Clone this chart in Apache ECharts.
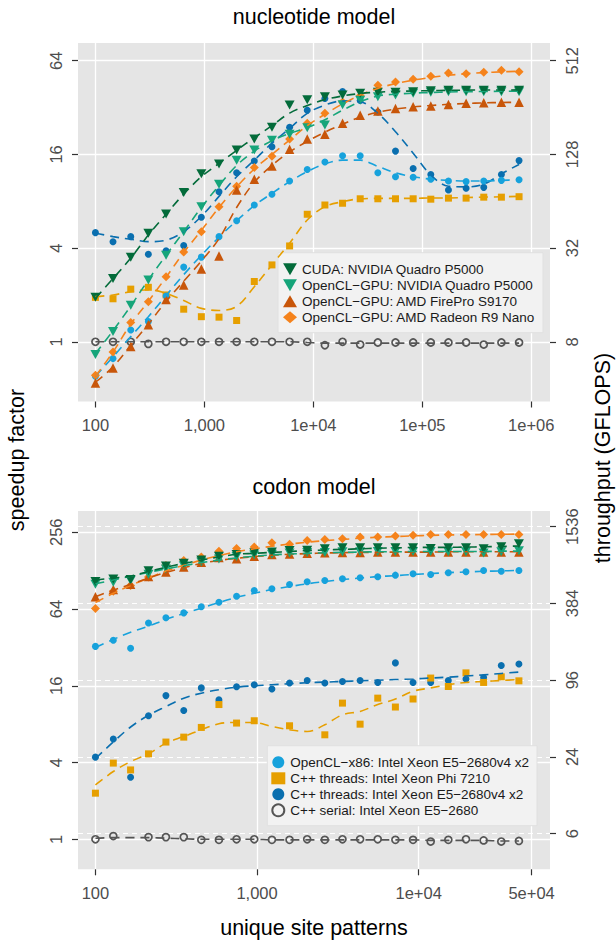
<!DOCTYPE html>
<html><head><meta charset="utf-8">
<script src="https://cdn.jsdelivr.net/npm/echarts@6/dist/echarts.min.js"></script>
<style>html,body{margin:0;padding:0;background:#fff}#c{width:616px;height:943px}</style>
</head><body><div id="c"></div>
<script>
// ---------- categories (unique site patterns) ----------
const sitesTop = [100,145,211,306,445,646,938,1362,1977,2871,4169,6053,8790,12763,18533,26911,39076,56740,82390,119634,173714,252242,366270,531844,772270];
const sitesBottom = [100,129,165,213,273,352,452,581,747,961,1236,1589,2043,2627,3378,4343,5585,7181,9234,11873,15267,19631,25243,32459,41737];

// ---------- nucleotide model: speedup factor (points) and smoothed fits ----------
const cudaTop     = [1.93,2.55,3.5,4.99,6.63,9.1,12.0,13.9,17.1,20.1,23.9,33.3,35.9,37.5,38.5,39.6,40.1,40.2,40.5,41.0,41.4,41.4,41.4,41.4,41.4];
const cudaTopFit  = [1.9,2.55,3.45,4.85,6.6,8.9,11.5,14.0,17.0,20.5,24.5,29.5,33.0,36.0,38.0,39.4,40.2,40.6,40.9,41.1,41.3,41.4,41.5,41.5,41.6];
const oclNvTop    = [0.83,1.165,1.72,2.5,3.6,5.1,7.39,10.3,14.7,17.1,19.7,21.6,23.7,24.7,33.4,35.7,37.5,38.5,39.5,40.2,40.5,40.5,40.5,40.5,40.5];
const oclNvTopFit = [0.84,1.18,1.7,2.5,3.6,5.1,7.3,10.1,13.6,16.8,19.6,21.8,23.8,26.7,30.8,34.9,38.0,39.0,39.6,40.0,40.3,40.5,40.6,40.7,40.8];
const fireTop     = [0.543,0.678,0.933,1.285,1.87,2.32,2.94,3.56,9.45,11.1,13.5,17.3,20.1,21.6,25.4,28.6,30.4,31.6,32.4,32.7,33.5,34.1,34.4,34.6,34.6];
const fireTopFit  = [0.55,0.69,0.95,1.3,1.82,2.45,3.3,4.6,7.3,10.6,13.6,16.6,19.4,22.2,25.0,27.8,29.9,31.3,32.3,33.0,33.6,34.0,34.3,34.5,34.6];
const nanoTop     = [0.61,0.86,1.33,1.81,2.62,3.77,5.1,7.39,10.0,13.2,15.6,20.1,25.4,29.4,34.8,38.1,44.6,46.8,48.7,50.9,53.3,52.8,53.9,55.6,54.3];
const nanoTopFit  = [0.6,0.86,1.3,1.82,2.6,3.75,5.2,7.3,9.9,12.9,16.0,19.8,24.5,29.0,33.8,38.5,42.5,45.6,48.0,50.0,51.6,52.8,53.7,54.3,54.8];
const x86Top      = [0.6,0.78,1.19,1.35,1.97,3.02,3.5,4.74,6.0,7.57,8.87,10.8,12.8,14.3,15.7,15.7,12.2,11.5,11.4,11.1,10.8,10.7,10.8,10.9,11.0];
const x86TopFit   = [0.6,0.8,1.08,1.45,1.98,2.7,3.6,4.7,6.0,7.5,9.0,10.7,12.4,13.9,14.7,14.7,13.4,12.2,11.5,11.1,10.9,10.8,10.8,10.9,11.0];
const phiTop      = [1.93,1.89,2.18,2.24,2.0,1.62,1.45,1.44,1.37,2.44,3.12,4.13,6.6,7.57,7.77,8.3,8.3,8.3,8.3,8.25,8.38,8.38,8.5,8.5,8.56];
const phiTopFit   = [1.95,2.0,2.1,2.16,2.05,1.84,1.64,1.59,1.69,2.26,3.12,4.3,6.06,7.39,7.95,8.3,8.35,8.35,8.35,8.4,8.4,8.45,8.5,8.55,8.6];
const thrTop      = [5.03,4.39,4.74,3.65,3.84,4.15,6.32,9.2,12.2,14.5,17.9,23.9,30.8,36.6,40.6,35.5,30.0,16.8,13.0,11.9,9.45,9.69,9.83,11.9,14.6];
const thrTopFit   = [5.0,4.74,4.56,4.4,4.5,5.1,6.4,8.6,11.5,14.7,18.9,23.5,29.4,33.2,35.3,34.9,29.4,22.4,16.3,11.8,10.0,9.9,10.3,12.0,13.8];
const serialTop   = [1.0,1.0,1.0,0.97,1.0,1.0,1.0,1.0,1.0,1.0,1.0,1.0,1.0,0.95,1.0,0.96,0.99,0.99,0.99,0.99,0.99,0.99,0.96,0.99,0.99];
const serialTopFit= [1.0,1.0,1.0,1.0,1.0,1.0,1.0,1.0,1.0,1.0,1.0,1.0,0.99,0.98,0.98,0.98,0.98,0.98,0.98,0.98,0.98,0.98,0.98,0.98,0.98];

// ---------- codon model ----------
const cudaBot     = [105,110,109,128,139,146,155,166,171,177,179,184,185,190,194,194,194,194,194,191,194,194,190,197,208];
const cudaBotFit  = [108,112,116,126,136,146,155,164,172,175,178,181,184,186,188,190,192,193,195,195,195,196,197,198,200];
const oclNvBot    = [100,104,107,120,132,140,150,158,165,170,172,176,178,178,180,180,181,181,181,181,180,180,176,180,183];
const oclNvBotFit = [101,108,116,124,132,140,148,155,161,166,170,173,175,177,178,179,180,180,181,181,181,181,181,182,182];
const fireBot     = [80,91,100,115,125,137,149,162,159,166,171,173,175,177,178,178,179,179,179,179,179,179,179,179,179];
const fireBotFit  = [80,90,100,112,124,135,146,154,160,165,169,172,174,176,177,178,178,179,179,179,180,180,180,180,180];
const nanoBot     = [64.6,88.3,97.9,114,140.6,153.9,163.5,182,191,196,212,206,221,225,228,235,235,239,243,246,246,246,246,246,246];
const nanoBotFit  = [72,85,98,112,127,141,155,168,180,190,199,207,214,220,225,230,234,237,240,242,244,245,246,247,248];
const x86Bot      = [32.6,36.4,31.5,49.8,54.6,59.7,66.6,72.4,80.7,89.4,92.2,99.7,104.7,107.2,110.6,112.6,114.6,118,121,119.4,123.2,125.4,128.4,126.8,128.4];
const x86BotFit   = [32,37,42,47,53,59,65,72,79,85,91,96,101,105,109,112,115,117,119.5,121.5,123.5,125,126.5,127.5,128.5];
const phiBot      = [2.30,3.96,3.50,4.68,5.79,6.33,7.54,11.4,8.16,8.51,null,7.77,null,6.6,11.7,8.0,12.8,10.9,12.6,18.4,15.8,20.2,17.0,18.8,17.5];
const phiBotFit   = [2.67,3.40,4.07,4.68,5.68,6.40,7.23,8.06,8.25,8.25,7.67,7.23,7.01,7.91,9.48,10.07,11.4,12.6,14.5,15.4,16.3,17.0,17.3,17.6,17.9];
const thrBot      = [4.41,6.11,3.07,9.31,13.4,10.25,15.4,12.4,15.7,16.3,15.1,16.8,17.6,16.8,17.3,17.6,17.0,24.2,17.0,17.0,17.6,18.1,18.6,23.1,23.7];
const thrBotFit   = [4.3,5.8,7.6,9.4,11.0,12.8,14.0,14.9,15.6,16.0,16.3,16.6,16.9,17.1,17.3,17.5,17.7,17.9,18.1,18.4,18.7,19.1,19.5,20.0,20.5];
const serialBot   = [1.0,1.06,null,1.04,1.04,1.04,0.99,0.99,1.0,1.0,0.99,0.99,1.0,0.99,1.0,1.0,1.0,0.99,0.99,0.96,0.99,1.0,0.98,0.96,0.97];
const serialBotFit= [1.02,1.03,1.03,1.03,1.02,1.01,1.0,1.0,1.0,1.0,0.99,0.99,0.99,0.99,0.99,0.99,0.99,0.99,0.99,0.98,0.98,0.98,0.98,0.97,0.97];

// ---------- tick labels ----------
const topXTicks = [100, 1000, 10000, 100000, 1000000];
const topXLabels = ['100', '1,000', '1e+04', '1e+05', '1e+06'];
const botXTicks = [100, 1000, 10000, 50000];
const botXLabels = ['100', '1,000', '1e+04', '5e+04'];
const topYTicks = [1, 4, 16, 64];
const topYLabels = ['1', '4', '16', '64'];
const topGflopsTicks = [8, 32, 128, 512];
const topGflopsLabels = ['8', '32', '128', '512'];
const botYTicks = [1, 4, 16, 64, 256];
const botYLabels = ['1', '4', '16', '64', '256'];
const botGflopsTicks = [6, 24, 96, 384, 1536];
const botGflopsLabels = ['6', '24', '96', '384', '1536'];
// GFLOPS per unit of speedup (serial throughput)
const topGflopsPerSpeedup = 8;
const botGflopsPerSpeedup = 5.42;

// axis ranges
const topXRange = [69.2, 1.485e6];
const topYRange = [0.4134, 83.2];
const botXRange = [78.0, 65000];
const botYRange = [0.5815, 376];

const FONT = '"Liberation Sans", Arial, Helvetica, sans-serif';
const DOWN_TRI = 'path://M0,0L10,0L5,8.66Z';
const names = {
  cuda: 'CUDA: NVIDIA Quadro P5000',
  oclNv: 'OpenCL\u2212GPU: NVIDIA Quadro P5000',
  fire: 'OpenCL\u2212GPU: AMD FirePro S9170',
  nano: 'OpenCL\u2212GPU: AMD Radeon R9 Nano',
  x86: 'OpenCL\u2212x86: Intel Xeon E5\u22122680v4 x2',
  phi: 'C++ threads: Intel Xeon Phi 7210',
  thr: 'C++ threads: Intel Xeon E5\u22122680v4 x2',
  serial: 'C++ serial: Intel Xeon E5\u22122680'
};
const styles = {
  serial: {color: '#555555', symbol: 'circle', size: 7, hollow: true},
  thr:    {color: '#0A6FAF', symbol: 'circle', size: 7},
  phi:    {color: '#E69F00', symbol: 'rect', size: 7},
  x86:    {color: '#17A2DC', symbol: 'circle', size: 7},
  nano:   {color: '#F5831C', symbol: 'diamond', size: 9},
  fire:   {color: '#C8560A', symbol: 'triangle', size: 9.5},
  oclNv:  {color: '#16A57A', symbol: DOWN_TRI, size: [10, 9]},
  cuda:   {color: '#036B3A', symbol: DOWN_TRI, size: [10, 9]}
};
const panels = [
  {xs: sitesTop, xi: 0, yi: 0, data: {
    serial: [serialTop, serialTopFit], thr: [thrTop, thrTopFit], phi: [phiTop, phiTopFit], x86: [x86Top, x86TopFit],
    nano: [nanoTop, nanoTopFit], fire: [fireTop, fireTopFit], oclNv: [oclNvTop, oclNvTopFit], cuda: [cudaTop, cudaTopFit]}},
  {xs: sitesBottom, xi: 2, yi: 3, data: {
    serial: [serialBot, serialBotFit], thr: [thrBot, thrBotFit], phi: [phiBot, phiBotFit], x86: [x86Bot, x86BotFit],
    nano: [nanoBot, nanoBotFit], fire: [fireBot, fireBotFit], oclNv: [oclNvBot, oclNvBotFit], cuda: [cudaBot, cudaBotFit]}}
];
const order = ['serial', 'thr', 'phi', 'x86', 'nano', 'fire', 'oclNv', 'cuda'];

function pairs(xs, ys) { return xs.map((x, i) => [x, ys[i]]).filter(p => p[1] != null); }

const series = [];
panels.forEach((p, pi) => {
  order.forEach(k => {
    const s = styles[k];
    series.push({
      name: names[k], type: 'scatter', xAxisIndex: p.xi, yAxisIndex: p.yi,
      data: pairs(p.xs, p.data[k][0]), symbol: s.symbol, symbolSize: s.size,
      itemStyle: s.hollow ? {color: 'rgba(0,0,0,0)', borderColor: s.color, borderWidth: 1.7, opacity: 1} : {color: s.color, opacity: 1},
      z: 3, silent: true
    });
  });
  order.forEach(k => {
    const s = styles[k];
    series.push({
      name: names[k] + ' fit ' + pi, type: 'line', xAxisIndex: p.xi, yAxisIndex: p.yi,
      data: pairs(p.xs, p.data[k][1]), smooth: 0.35, symbol: 'none', showSymbol: false,
      lineStyle: {color: s.color, width: 1.6, type: [9, 6], opacity: 1}, z: 4, silent: true
    });
  });
});

function labelLookup(ticksLog, labels) {
  return v => { const i = ticksLog.findIndex(t => Math.abs(t - v) < 1e-6); return i >= 0 ? labels[i] : ''; };
}
function helperX(grid, range, ticks, labels) {
  const tl = ticks.map(Math.log10);
  return {type: 'value', gridIndex: grid, position: 'bottom', min: Math.log10(range[0]), max: Math.log10(range[1]),
    axisLine: {show: false},
    axisTick: {show: true, customValues: tl, length: 6, lineStyle: {color: '#333333', width: 1.2}},
    axisLabel: {customValues: tl, formatter: labelLookup(tl, labels), color: '#4D4D4D', fontSize: 16.5, fontFamily: FONT, margin: 15},
    splitLine: {show: true, lineStyle: {color: '#ffffff', width: 1.3}}};
}
function helperY(grid, pos, range, factor, ticks, labels, dashed) {
  const tl = ticks.map(Math.log2);
  return {type: 'value', gridIndex: grid, position: pos, min: Math.log2(range[0] * factor), max: Math.log2(range[1] * factor),
    axisLine: {show: false},
    axisTick: {show: true, customValues: tl, length: 6, lineStyle: {color: '#333333', width: 1.2}},
    axisLabel: {customValues: tl, formatter: labelLookup(tl, labels), color: '#4D4D4D', fontSize: 16.5, fontFamily: FONT,
      rotate: 90, margin: pos === 'left' ? 14 : 13},
    splitLine: {show: true, lineStyle: dashed ? {color: '#ffffff', width: 1.1, type: [5, 4]} : {color: '#ffffff', width: 1.3}}};
}
function legendItem(k) {
  const s = styles[k];
  const item = {name: names[k]};
  if (s.symbol === DOWN_TRI) item.icon = DOWN_TRI;
  return item;
}

const legendCommon = {
  orient: 'vertical', itemWidth: 14, itemHeight: 12, itemGap: 0,
  backgroundColor: '#F2F2F2', borderColor: '#E0E0E0', borderWidth: 1,
  textStyle: {fontFamily: FONT, fontSize: 13.5, color: '#1a1a1a', lineHeight: 16},
  selectedMode: false
};

const option = {
  animation: false,
  backgroundColor: '#ffffff',
  textStyle: {fontFamily: FONT},
  grid: [
    {left: 78, top: 43, width: 472, height: 358.5, show: true, backgroundColor: '#E5E5E5', borderWidth: 0},
    {left: 78, top: 511, width: 472, height: 358.3, show: true, backgroundColor: '#E5E5E5', borderWidth: 0}
  ],
  xAxis: [
    {type: 'log', logBase: 10, gridIndex: 0, position: 'bottom', min: topXRange[0], max: topXRange[1], show: false},
    helperX(0, topXRange, topXTicks, topXLabels),
    {type: 'log', logBase: 10, gridIndex: 1, position: 'bottom', min: botXRange[0], max: botXRange[1], show: false},
    helperX(1, botXRange, botXTicks, botXLabels)
  ],
  yAxis: [
    {type: 'log', logBase: 2, gridIndex: 0, position: 'left', min: topYRange[0], max: topYRange[1], show: false},
    helperY(0, 'left', topYRange, 1, topYTicks, topYLabels, false),
    helperY(0, 'right', topYRange, topGflopsPerSpeedup, topGflopsTicks, topGflopsLabels, true),
    {type: 'log', logBase: 2, gridIndex: 1, position: 'left', min: botYRange[0], max: botYRange[1], show: false},
    helperY(1, 'left', botYRange, 1, botYTicks, botYLabels, false),
    helperY(1, 'right', botYRange, botGflopsPerSpeedup, botGflopsTicks, botGflopsLabels, true)
  ],
  legend: [
    Object.assign({}, legendCommon, {left: 278, top: 252.7, padding: [8.6, 8, 7.4, 5],
      data: ['cuda', 'oclNv', 'fire', 'nano'].map(legendItem)}),
    Object.assign({}, legendCommon, {left: 267.3, top: 745.7, padding: [8.6, 8, 7.4, 4],
      data: ['x86', 'phi', 'thr', 'serial'].map(legendItem)})
  ],
  graphic: [
    {type: 'text', x: 314, y: 17, silent: true, style: {text: 'nucleotide model', textAlign: 'center', textVerticalAlign: 'middle', font: '21.5px ' + FONT, fill: '#000'}},
    {type: 'text', x: 314, y: 487, silent: true, style: {text: 'codon model', textAlign: 'center', textVerticalAlign: 'middle', font: '21.5px ' + FONT, fill: '#000'}},
    {type: 'text', x: 314, y: 928, silent: true, style: {text: 'unique site patterns', textAlign: 'center', textVerticalAlign: 'middle', font: '21.5px ' + FONT, fill: '#000'}},
    {type: 'text', x: 17, y: 460, rotation: Math.PI / 2, silent: true, style: {text: 'speedup factor', textAlign: 'center', textVerticalAlign: 'middle', font: '21.5px ' + FONT, fill: '#000'}},
    {type: 'text', x: 603, y: 458, rotation: Math.PI / 2, silent: true, style: {text: 'throughput (GFLOPS)', textAlign: 'center', textVerticalAlign: 'middle', font: '21.5px ' + FONT, fill: '#000'}}
  ],
  series: series
};

const chart = echarts.init(document.getElementById('c'), null, {renderer: 'svg', width: 616, height: 943});
chart.setOption(option);
</script>
</body></html>
